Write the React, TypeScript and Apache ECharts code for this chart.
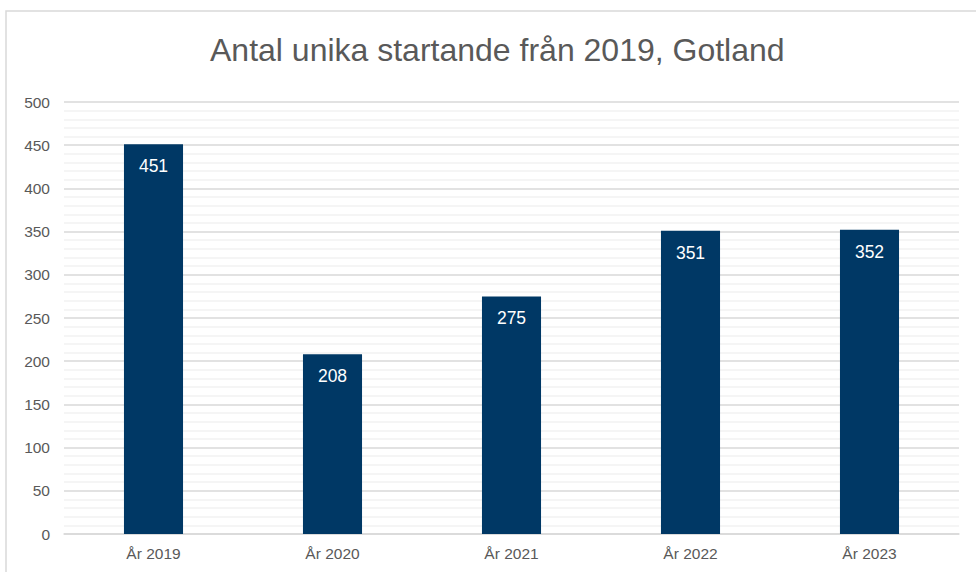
import React, { useEffect, useRef } from "react";
import * as echarts from "echarts";

const categories = ["År 2019", "År 2020", "År 2021", "År 2022", "År 2023"];
const values = [451, 208, 275, 351, 352];
const titleText = "Antal unika startande från 2019, Gotland";

export default function App() {
  const ref = useRef<HTMLDivElement>(null);
  useEffect(() => {
    if (!ref.current) return;
    const chart = echarts.init(ref.current, null, { renderer: "svg" });
    const font = "Liberation Sans, Arial, sans-serif";
    chart.setOption({
      animation: false,
      backgroundColor: "#ffffff",
      title: {
        text: titleText,
        left: 205,
        top: 29,
        textStyle: { fontFamily: font, fontSize: 32, fontWeight: "normal", color: "#595959" },
      },
      graphic: [
        {
          type: "rect",
          shape: { x: 6, y: 11, width: 1100, height: 1100 },
          style: { fill: "none", stroke: "#d9d9d9", lineWidth: 1.5 },
          silent: true,
          z: 100,
        },
      ],
      grid: { left: 64, right: 17, top: 102, bottom: 38, containLabel: false },
      xAxis: [
        {
          type: "category",
          data: categories,
          axisLine: { show: true, lineStyle: { color: "#d9d9d9", width: 1.5 } },
          axisTick: { show: false },
          axisLabel: { color: "#595959", fontSize: 15.5, fontFamily: font, margin: 11 },
        },
      ],
      yAxis: [
        {
          type: "value",
          min: 0,
          max: 500,
          interval: 50,
          axisLine: { show: false },
          axisTick: { show: false },
          axisLabel: { color: "#595959", fontSize: 15.5, fontFamily: font, margin: 14 },
          splitLine: { show: true, lineStyle: { color: "#d9d9d9", width: 1.5 } },
          minorTick: { show: false, splitNumber: 5 },
          minorSplitLine: { show: true, lineStyle: { color: "#f2f2f2", width: 1.5 } },
        },
      ],
      series: [
        {
          type: "bar",
          data: values,
          barWidth: "33%",
          itemStyle: { color: "#003865" },
          label: {
            show: true,
            position: "insideTop",
            distance: 13,
            color: "#ffffff",
            fontSize: 17.5,
            fontFamily: font,
          },
        },
      ],
    });
    return () => chart.dispose();
  }, []);
  return <div ref={ref} style={{ position: "fixed", left: 0, top: 0, width: 976, height: 572 }} />;
}
